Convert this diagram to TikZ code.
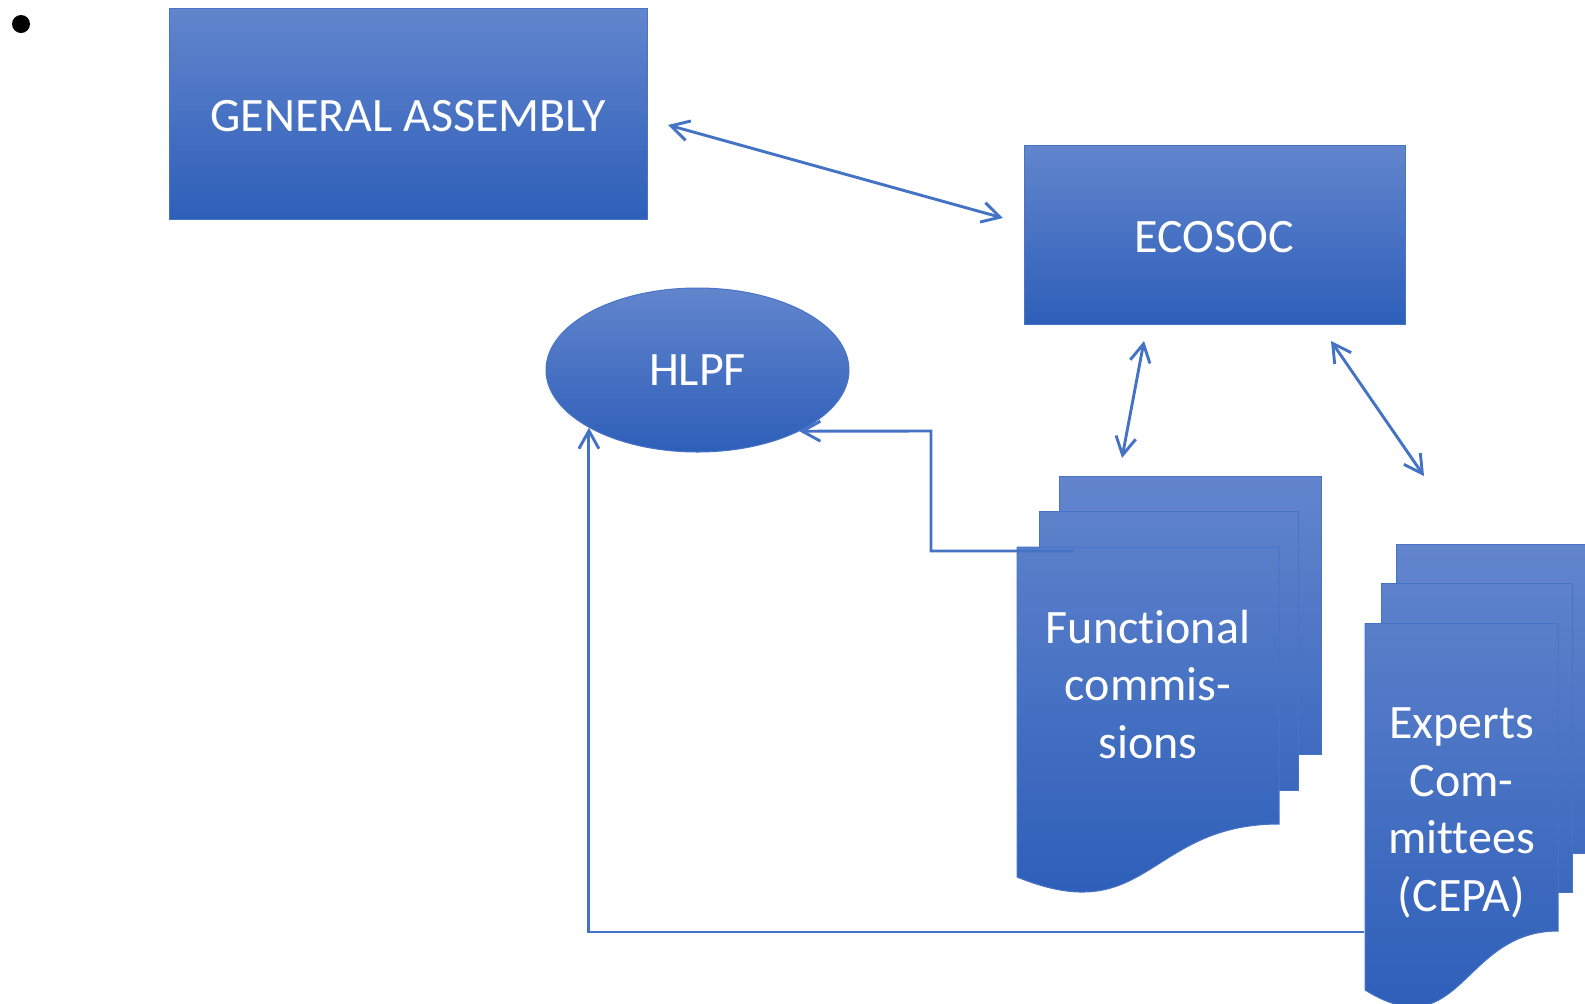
\documentclass[tikz,border=0pt]{standalone}
\usepackage{fontspec}
\setmainfont{Carlito}[Ligatures=NoCommon]
\usetikzlibrary{arrows.meta,shapes.geometric}
\definecolor{gtop}{RGB}{98,133,205}
\definecolor{gbot}{RGB}{46,95,185}
\definecolor{lineblue}{RGB}{68,114,196}
\definecolor{boxline}{RGB}{72,116,198}
\newcommand\lblfont{\fontsize{24pt}{28.75pt}\selectfont}
\tikzset{
  box/.style={draw=boxline, line width=0.5pt, top color=gtop, bottom color=gbot,
    text=white, font=\lblfont, inner sep=0pt},
  pagefill/.style={draw=boxline, line width=0.5pt},
  lbl/.style={text=white, font=\lblfont, align=center, inner sep=0pt},
  conn/.style={draw=lineblue, line width=1.45pt},
  >={Straight Barb[length=9pt,width=10pt]}
}
\begin{document}
\begin{tikzpicture}[x=0.5pt,y=-0.5pt]
\useasboundingbox (0,0) rectangle (1585,1003);
\fill[white] (0,0) rectangle (1585,1003);

% bullet
\node[circle, fill=black, inner sep=0pt, minimum size=9pt] (bullet) at (21,24) {};

% boxes
\node[box, minimum width=239pt, minimum height=105.5pt, text height=17.5pt, text depth=0pt] (ga) at (408,113.5) {GENERAL ASSEMBLY};
\node[box, minimum width=190.5pt, minimum height=89.5pt, text height=17.5pt, text depth=0pt] (eco) at (1214.5,234.5) {ECOSOC};
\node[box, ellipse, minimum width=151.5pt, minimum height=82pt] (hlpf) at (697.5,370) {HLPF};

% Functional commissions multidocument
\begin{scope}
  \clip (1059.5,476) rectangle (1321,754);
  \shade[top color=gtop, bottom color=gbot] (1017,476) rectangle (1321,893);
\end{scope}
\draw[pagefill] (1059.5,476) rectangle (1321,754);
\begin{scope}
  \clip (1039,511.5) rectangle (1298.5,790);
  \shade[top color=gtop, bottom color=gbot] (1017,476) rectangle (1321,893);
\end{scope}
\draw[pagefill] (1039,511.5) rectangle (1298.5,790);
\begin{scope}
  \clip (1017,547) -- (1279,547) -- (1279,824) .. controls (1148,824) and (1148,930.5) .. (1017,877) -- cycle;
  \shade[top color=gtop, bottom color=gbot] (1017,476) rectangle (1321,893);
\end{scope}
\draw[pagefill] (1017,547) -- (1279,547) -- (1279,824) .. controls (1148,824) and (1148,930.5) .. (1017,877) -- cycle;
\node[lbl] (fc) at (1148,684) {Functional\\commis-\\sions};

% Experts Committees multidocument
\begin{scope}
  \clip (1396,544) rectangle (1589,853);
  \shade[top color=gtop, bottom color=gbot] (1365,544) rectangle (1589,1008);
\end{scope}
\draw[pagefill] (1396,544) rectangle (1589,853);
\begin{scope}
  \clip (1381,583.5) rectangle (1572,892);
  \shade[top color=gtop, bottom color=gbot] (1365,544) rectangle (1589,1008);
\end{scope}
\draw[pagefill] (1381,583.5) rectangle (1572,892);
\begin{scope}
  \clip (1365,623.5) -- (1558,623.5) -- (1558,931) .. controls (1461.4,931) and (1461.4,1049.7) .. (1365,990) -- cycle;
  \shade[top color=gtop, bottom color=gbot] (1365,544) rectangle (1589,1008);
\end{scope}
\draw[pagefill] (1365,623.5) -- (1558,623.5) -- (1558,931) .. controls (1461.4,931) and (1461.4,1049.7) .. (1365,990) -- cycle;
\node[lbl] (ec) at (1461.5,813) {Experts\\Com-\\mittees\\(CEPA)};

% connector end points
\coordinate (gaR) at (668,125);
\coordinate (ecoL) at (1003,218);
\coordinate (ecoB1) at (1144,341);
\coordinate (fcT) at (1122,458);
\coordinate (ecoB2) at (1331,341);
\coordinate (ecT) at (1424,476);
\coordinate (fcOut) at (1073,551);
\coordinate (fcBend) at (931,431);
\coordinate (ecOut) at (1364,932);

% connectors
\draw[conn,<->] (gaR) -- (ecoL);
\draw[conn,<->] (ecoB1) -- (fcT);
\draw[conn,<->] (ecoB2) -- (ecT);
\draw[conn,->] (fcOut) -| (fcBend) -- (hlpf.-31);
\draw[conn,->] (ecOut) -| (hlpf.208);
\end{tikzpicture}
\end{document}
